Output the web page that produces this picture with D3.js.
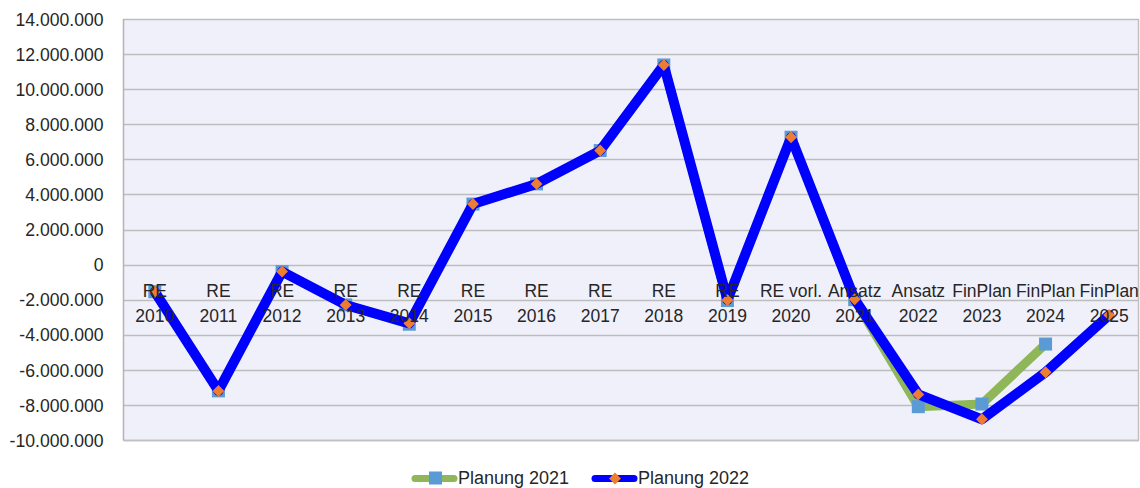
<!DOCTYPE html>
<html>
<head>
<meta charset="utf-8">
<script src="https://cdn.jsdelivr.net/npm/d3@7"></script>
<style>
  html, body { margin: 0; padding: 0; background: #ffffff; }
  svg { display: block; }
  text { font-family: "Liberation Sans", Arial, sans-serif; fill: #262626; }
</style>
</head>
<body>
<svg id="chart" width="1140" height="488"></svg>
<script>
// ---- data ----
const catLine1 = ["RE","RE","RE","RE","RE","RE","RE","RE","RE","RE","RE vorl.","Ansatz","Ansatz","FinPlan","FinPlan","FinPlan"];
const catLine2 = ["2010","2011","2012","2013","2014","2015","2016","2017","2018","2019","2020","2021","2022","2023","2024","2025"];
const seriesNames = ["Planung 2021", "Planung 2022"];
const planung2021 = [-1550000,-7200000,-400000,-2300000,-3400000,3450000,4600000,6500000,11380000,-2050000,7260000,-2000000,-8100000,-7950000,-4530000,null];
const planung2022 = [-1550000,-7200000,-400000,-2300000,-3350000,3450000,4600000,6500000,11380000,-2020000,7260000,-1980000,-7400000,-8820000,-6140000,-2870000];
const yTicks = [-10000000,-8000000,-6000000,-4000000,-2000000,0,2000000,4000000,6000000,8000000,10000000,12000000,14000000];

// ---- layout ----
const svg = d3.select("#chart");
const L = 123.5, R = 1139, T = 19, B = 440;

const x = d3.scalePoint().domain(d3.range(catLine2.length)).range([L - 0.5, 1141]).padding(0.5);
const y = d3.scaleLinear().domain([-10000000, 14000000]).range([B, T]);

const de = d3.formatLocale({decimal: ",", thousands: ".", grouping: [3], currency: ["", " €"], minus: "-"});
const fmt = de.format(",d");

// plot background
svg.append("rect").attr("x", L).attr("y", T).attr("width", R - L).attr("height", B - T)
  .attr("fill", "#f0f0fb");

// gridlines
svg.append("g").selectAll("line").data(yTicks).join("line")
  .attr("x1", L).attr("x2", R)
  .attr("y1", d => Math.round(y(d)) + 0.5).attr("y2", d => Math.round(y(d)) + 0.5)
  .attr("stroke", "#bdbdbd").attr("stroke-width", 1.3);

// plot border (left, right, bottom)
svg.append("line").attr("x1", L).attr("x2", L).attr("y1", T).attr("y2", B + 0.5)
  .attr("stroke", "#b3b3b3").attr("stroke-width", 1.5);
svg.append("line").attr("x1", R - 0.5).attr("x2", R - 0.5).attr("y1", T).attr("y2", B + 0.5)
  .attr("stroke", "#c0c0c0").attr("stroke-width", 1.5);
svg.append("line").attr("x1", L).attr("x2", R).attr("y1", B + 0.5).attr("y2", B + 0.5)
  .attr("stroke", "#c0c0c0").attr("stroke-width", 1.5);

// y axis labels
const yAxis = d3.axisLeft(y).tickValues(yTicks).tickFormat(fmt).tickSize(0).tickPadding(20);
const gy = svg.append("g").attr("transform", `translate(${L},0)`).call(yAxis);
gy.select(".domain").remove();
gy.selectAll("text").attr("font-size", "17.6px").attr("fill", "#262626")
  .attr("font-family", "'Liberation Sans', Arial, sans-serif").attr("dy", "0.35em");

// series
const line = d3.line().defined(d => d != null).x((d, i) => x(i)).y(d => y(d));

// Planung 2021
svg.append("path").datum(planung2021).attr("d", line)
  .attr("fill", "none").attr("stroke", "#8fb75a").attr("stroke-width", 9)
  .attr("stroke-linejoin", "round").attr("stroke-linecap", "round");
svg.append("g").selectAll("rect").data(planung2021.map((v, i) => ({v, i})).filter(d => d.v != null)).join("rect")
  .attr("x", d => x(d.i) - 6.5).attr("y", d => y(d.v) - 6.5)
  .attr("width", 13).attr("height", 13).attr("fill", "#5b9bd5");

// Planung 2022
svg.append("path").datum(planung2022).attr("d", line)
  .attr("fill", "none").attr("stroke", "#0000ff").attr("stroke-width", 10)
  .attr("stroke-linejoin", "round").attr("stroke-linecap", "round");
const diamond = d3.symbol().type(d3.symbolDiamond2).size(90);
svg.append("g").selectAll("path").data(planung2022.map((v, i) => ({v, i}))).join("path")
  .attr("d", diamond)
  .attr("transform", d => `translate(${x(d.i)},${y(d.v)})`)
  .attr("fill", "#ed7d31");

// category labels (on top, next to zero axis)
const y0 = y(0);
const gx = svg.append("g");
gx.selectAll("text.l1").data(catLine1).join("text").attr("class", "l1")
  .attr("x", (d, i) => x(i)).attr("y", y0 + 32.5)
  .attr("text-anchor", "middle").attr("font-size", "17.5px").text(d => d);
gx.selectAll("text.l2").data(catLine2).join("text").attr("class", "l2")
  .attr("x", (d, i) => x(i)).attr("y", y0 + 57)
  .attr("text-anchor", "middle").attr("font-size", "17.5px").text(d => d);

// legend
const legend = svg.append("g");
const legItems = [
  {name: seriesNames[0], x0: 412, lineColor: "#8fb75a", marker: "square", mColor: "#5b9bd5"},
  {name: seriesNames[1], x0: 592, lineColor: "#0000ff", marker: "diamond", mColor: "#ed7d31"}
];
const ly = 478.5;
legItems.forEach(it => {
  legend.append("line").attr("x1", it.x0 + 3).attr("x2", it.x0 + 42).attr("y1", ly).attr("y2", ly)
    .attr("stroke", it.lineColor).attr("stroke-width", 7).attr("stroke-linecap", "round");
  if (it.marker === "square") {
    legend.append("rect").attr("x", it.x0 + 17).attr("y", ly - 7).attr("width", 13).attr("height", 13)
      .attr("fill", it.mColor);
  } else {
    legend.append("path").attr("d", diamond).attr("transform", `translate(${it.x0 + 23},${ly})`)
      .attr("fill", it.mColor);
  }
  legend.append("text").attr("x", it.x0 + 46).attr("y", ly + 5.5).attr("font-size", "18px").text(it.name);
});
</script>
</body>
</html>
